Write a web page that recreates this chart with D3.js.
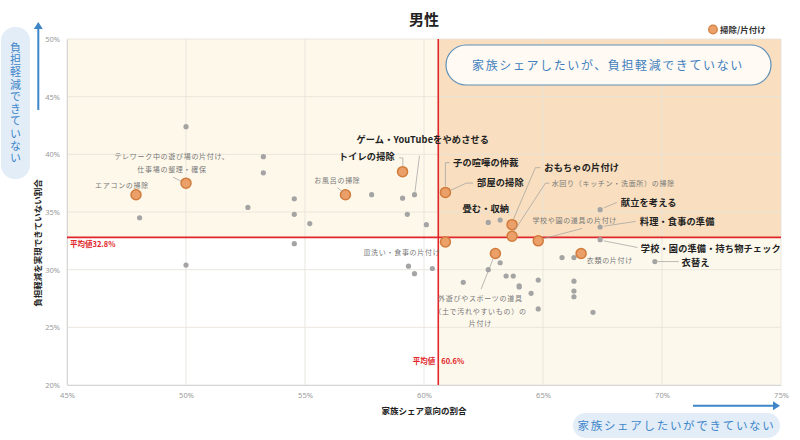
<!DOCTYPE html>
<html>
<head>
<meta charset="utf-8">
<script src="https://cdn.jsdelivr.net/npm/d3@7"></script>
<style>
  body { margin: 0; background: #fff; }
  svg text { font-family: "Noto Sans CJK JP", "Noto Sans", sans-serif; }
</style>
</head>
<body>
<svg id="chart" width="800" height="440"></svg>
<script>
// 掃除/片付け (orange)
var cleanTasks = ["エアコンの掃除", "テレワーク中の遊び場の片付け、仕事場の整理・確保", "お風呂の掃除", "トイレの掃除",
  "部屋の掃除", "おもちゃの片付け", "水回り（キッチン・洗面所）の掃除", "学校や園の道具の片付け",
  "皿洗い・食事の片付け", "外遊びやスポーツの道具（土で汚れやすいもの）の片付け", "衣類の片付け"];
var cleanShare  = [47.9, 50.0, 56.7, 59.1, 60.9, 63.7, 63.7, 64.8, 60.9, 63.0, 66.6];
var cleanBurden = [36.5, 37.5, 36.5, 38.5, 36.7, 33.9, 32.9, 32.5, 32.4, 31.4, 31.4];

// other tasks (gray), "" = no label
var otherTasks = ["ゲーム・YouTubeをやめさせる", "子の喧嘩の仲裁", "畳む・収納", "献立を考える", "料理・食事の準備",
  "学校・園の準備・持ち物チェック", "衣替え",
  "", "", "", "", "", "", "", "", "", "", "", "", "", "", "", "", "", "", "", "", "", "", "", "", "", "", "", "", "", "", "", "", "", ""];
var otherShare  = [59.6, 60.9, 62.7, 67.4, 67.4, 67.4, 69.7,
  50.0, 53.25, 53.25, 54.55, 52.6, 57.8, 59.1, 59.3, 48.05, 54.55, 55.2, 54.55, 50.0, 60.1, 63.2,
  65.8, 66.3, 64.8, 66.3, 64.5, 66.3, 66.3, 64.8, 67.1, 59.35, 59.6, 60.35, 61.65, 62.7, 63.2, 63.45, 63.75, 64.0, 64.0];
var otherBurden = [36.5, 36.7, 34.1, 35.2, 33.7, 32.6, 30.7,
  42.4, 39.8, 38.4, 36.15, 35.4, 36.5, 36.2, 34.8, 34.5, 34.8, 34.0, 32.25, 30.4, 33.9, 34.3,
  31.05, 31.05, 29.1, 29.0, 27.95, 28.15, 27.65, 26.6, 26.3, 30.3, 29.65, 30.1, 28.9, 30.0, 30.6, 29.45, 29.45, 28.6, 28.5];

var meanShare = 60.6;
var meanBurden = 32.8;
var xTicks = [45, 50, 55, 60, 65, 70, 75];
var yTicks = [20, 25, 30, 35, 40, 45, 50];

// label layout: offsets from the point in px, leader points relative to the point
var labelLayout = {
  "エアコンの掃除": {lines: ["エアコンの掃除"], ox: -14, oy: -7, anchor: "middle"},
  "テレワーク中の遊び場の片付け、仕事場の整理・確保": {lines: ["テレワーク中の遊び場の片付け、", "仕事場の整理・確保"], ox: -14, oy: -24, anchor: "middle", leader: [[-13, -6], [-5, -2]]},
  "お風呂の掃除": {lines: ["お風呂の掃除"], ox: -8, oy: -12, anchor: "middle", leader: [[-8, -7], [-3, -3]]},
  "皿洗い・食事の片付け": {lines: ["皿洗い・食事の片付け"], ox: -5, oy: 13.5, anchor: "end"},
  "水回り（キッチン・洗面所）の掃除": {lines: ["水回り（キッチン・洗面所）の掃除"], ox: 39.6, oy: -49.8, anchor: "start", leader: [[2, -5], [33.3, -53], [37.3, -53]]},
  "学校や園の道具の片付け": {lines: ["学校や園の道具の片付け"], ox: 36.5, oy: -18, anchor: "middle", leader: [[6, -2.4], [44, -12.4]]},
  "衣類の片付け": {lines: ["衣類の片付け"], ox: 5.7, oy: 9.5, anchor: "start"},
  "外遊びやスポーツの道具（土で汚れやすいもの）の片付け": {lines: ["外遊びやスポーツの道具", "（土で汚れやすいもの）の", "片付け"], ox: -15, oy: 47.8, anchor: "middle", leader: [[-14.3, 35.6], [-2.3, 5.3]]},
  "トイレの掃除": {lines: ["トイレの掃除"], ox: -7.7, oy: -11.2, anchor: "end", bold: true, leader: [[-3.3, -13.7], [0.3, -13.7], [0.3, -5.3]]},
  "部屋の掃除": {lines: ["部屋の掃除"], ox: 31.7, oy: -6.5, anchor: "start", bold: true, leader: [[27.7, -9.3], [21, -9.3], [5, -2]]},
  "おもちゃの片付け": {lines: ["おもちゃの片付け"], ox: 32.3, oy: -53.5, anchor: "start", bold: true, leader: [[28.3, -57], [23.3, -57], [1.3, -5.3]]},
  "ゲーム・YouTubeをやめさせる": {lines: ["ゲーム・YouTubeをやめさせる"], ox: 8.3, oy: -52.2, anchor: "middle", bold: true, leader: [[0.5, -3], [5, -39]]},
  "子の喧嘩の仲裁": {lines: ["子の喧嘩の仲裁"], ox: 7.7, oy: -26.2, anchor: "start", bold: true, leader: [[4.3, -29.7], [0, -29.7], [0, -6]]},
  "畳む・収納": {lines: ["畳む・収納"], ox: -2.4, oy: -9.9, anchor: "middle", bold: true},
  "献立を考える": {lines: ["献立を考える"], ox: 20.7, oy: -4.1, anchor: "start", bold: true, leader: [[3.7, -1.8], [16.7, -7.3]]},
  "料理・食事の準備": {lines: ["料理・食事の準備"], ox: 39.7, oy: -2.1, anchor: "start", bold: true, leader: [[3.7, -0.8], [35.7, -5.6]]},
  "学校・園の準備・持ち物チェック": {lines: ["学校・園の準備・持ち物チェック"], ox: 40.7, oy: 12.3, anchor: "start", bold: true, leader: [[3.7, 1.2], [37.4, 7.8]]},
  "衣替え": {lines: ["衣替え"], ox: 26.7, oy: 4, anchor: "start", bold: true, leader: [[3, 0], [24, 0]]}
};

var svg = d3.select("#chart");
var x = d3.scaleLinear().domain([45, 75]).range([67, 781]);
var y = d3.scaleLinear().domain([20, 50]).range([385, 39]);
var x0 = x(45), x1 = x(75), y0 = y(50), y1 = y(20);
var mx = x(meanShare), my = y(meanBurden);

// quadrant backgrounds
svg.append("rect").attr("x", x0).attr("y", y0).attr("width", mx - x0).attr("height", my - y0).attr("fill", "#fdf8ea");
svg.append("rect").attr("x", mx).attr("y", y0).attr("width", x1 - mx).attr("height", my - y0).attr("fill", "#f9dfbf");
svg.append("rect").attr("x", mx).attr("y", my).attr("width", x1 - mx).attr("height", y1 - my).attr("fill", "#fdf8ec");

// grid
var grid = svg.append("g").attr("stroke", "#e4e1da").attr("stroke-width", 0.8);
grid.selectAll(".gx").data(xTicks).join("line")
  .attr("x1", d => x(d)).attr("x2", d => x(d)).attr("y1", y0).attr("y2", y1);
grid.selectAll(".gy").data(yTicks).join("line")
  .attr("x1", x0).attr("x2", x1).attr("y1", d => y(d)).attr("y2", d => y(d));

// axes
var xAxis = svg.append("g").attr("transform", "translate(0," + y1 + ")")
  .call(d3.axisBottom(x).tickValues(xTicks).tickFormat(d => d + "%").tickSize(0).tickPadding(8));
var yAxis = svg.append("g").attr("transform", "translate(" + x0 + ",0)")
  .call(d3.axisLeft(y).tickValues(yTicks).tickFormat(d => d + "%").tickSize(0).tickPadding(7));
[xAxis, yAxis].forEach(function(g) {
  g.select(".domain").attr("stroke", "#d6d6d6").attr("stroke-width", 1);
  g.selectAll("text").attr("fill", "#9a9a9a").attr("font-size", 7.5)
    .style("font-family", "'Noto Sans', sans-serif");
});

// mean lines
svg.append("line").attr("x1", x0).attr("x2", x1).attr("y1", my).attr("y2", my)
  .attr("stroke", "#e0262a").attr("stroke-width", 1.6);
svg.append("line").attr("x1", mx).attr("x2", mx).attr("y1", y0).attr("y2", y1)
  .attr("stroke", "#e0262a").attr("stroke-width", 1.6);
svg.append("text").attr("x", x0 + 3).attr("y", my + 10).text("平均値" + meanBurden + "%")
  .attr("fill", "#e0262a").attr("font-size", 7.5).attr("font-weight", "bold");
svg.append("text").attr("x", mx - 3).attr("y", 364).attr("text-anchor", "end").text("平均値")
  .attr("fill", "#e0262a").attr("font-size", 7.5).attr("font-weight", "bold");
svg.append("text").attr("x", mx + 3).attr("y", 364).text(meanShare + "%")
  .attr("fill", "#e0262a").attr("font-size", 7.5).attr("font-weight", "bold");

// points
var others = otherTasks.map((n, i) => ({name: n, sx: otherShare[i], by: otherBurden[i]}));
var cleans = cleanTasks.map((n, i) => ({name: n, sx: cleanShare[i], by: cleanBurden[i]}));

svg.append("g").selectAll("circle").data(others).join("circle")
  .attr("cx", d => x(d.sx)).attr("cy", d => y(d.by)).attr("r", 2.6).attr("fill", "#a4a4a4");
svg.append("g").selectAll("circle").data(cleans).join("circle")
  .attr("cx", d => x(d.sx)).attr("cy", d => y(d.by)).attr("r", 5)
  .attr("fill", "#eba06a").attr("stroke", "#d27b3b").attr("stroke-width", 1.5);

// labels + leaders
var labelled = cleans.concat(others).filter(d => labelLayout[d.name]);
labelled.forEach(function(d) {
  var L = labelLayout[d.name], px = x(d.sx), py = y(d.by);
  if (L.leader) {
    svg.append("path")
      .attr("d", d3.line()(L.leader.map(p => [px + p[0], py + p[1]])))
      .attr("fill", "none").attr("stroke", "#9d9d9d").attr("stroke-width", 0.7);
  }
  var step = L.bold ? 13 : 12.5;
  L.lines.forEach(function(t, i) {
    svg.append("text").attr("x", px + L.ox).attr("y", py + L.oy + i * step)
      .attr("text-anchor", L.anchor).text(t)
      .attr("font-size", L.bold ? 9.2 : 7)
      .attr("font-weight", L.bold ? "bold" : "normal")
      .attr("letter-spacing", L.bold ? 0.15 : 0.7)
      .attr("fill", L.bold ? "#222" : "#777");
  });
});

// title, legend
svg.append("text").attr("x", 424).attr("y", 25).attr("text-anchor", "middle").text("男性")
  .attr("font-size", 15).attr("font-weight", "bold").attr("fill", "#222");
svg.append("circle").attr("cx", 713).attr("cy", 29.5).attr("r", 4.3)
  .attr("fill", "#eba06a").attr("stroke", "#d27b3b").attr("stroke-width", 1.2);
svg.append("text").attr("x", 720).attr("y", 32.5).text("掃除/片付け")
  .attr("font-size", 8.5).attr("font-weight", "bold").attr("fill", "#333");

// axis titles
svg.append("text").attr("x", 424).attr("y", 414).attr("text-anchor", "middle").text("家族シェア意向の割合")
  .attr("font-size", 8.5).attr("font-weight", "bold").attr("fill", "#222");
svg.append("text").attr("transform", "translate(41,243) rotate(-90)").attr("text-anchor", "middle")
  .text("負担軽減を実現できていない割合")
  .attr("font-size", 8.5).attr("font-weight", "bold").attr("fill", "#222");

// callout in the upper-right quadrant
svg.append("rect").attr("x", 446).attr("y", 45).attr("width", 325).attr("height", 40).attr("rx", 20)
  .attr("fill", "#fffaf4").attr("stroke", "#5f8fb8").attr("stroke-width", 1.2);
svg.append("text").attr("x", 608).attr("y", 70).attr("text-anchor", "middle")
  .text("家族シェアしたいが、負担軽減できていない")
  .attr("font-size", 12).attr("letter-spacing", 1.6).attr("fill", "#3f7fbd");

// left direction badge (vertical text)
var blue = "#3f86c8";
svg.append("rect").attr("x", 1).attr("y", 27).attr("width", 29).attr("height", 152).attr("rx", 14)
  .attr("fill", "#e2edf8");
svg.append("text").attr("x", 15.5).attr("y", 42)
  .style("writing-mode", "vertical-rl").style("text-orientation", "upright")
  .attr("letter-spacing", 1.3).text("負担軽減できていない")
  .attr("font-size", 11).attr("fill", blue);
svg.append("line").attr("x1", 38.3).attr("x2", 38.3).attr("y1", 110).attr("y2", 27)
  .attr("stroke", blue).attr("stroke-width", 2);
svg.append("path").attr("d", "M33.8,29 L38.3,22 L42.8,29 Z").attr("fill", blue);

// bottom direction badge
svg.append("rect").attr("x", 573).attr("y", 413).attr("width", 207).attr("height", 25).attr("rx", 12.5)
  .attr("fill", "#e2edf8");
svg.append("text").attr("x", 676.5).attr("y", 430).attr("text-anchor", "middle")
  .text("家族シェアしたいができていない")
  .attr("font-size", 11.5).attr("letter-spacing", 1.7).attr("fill", blue);
svg.append("line").attr("x1", 693).attr("x2", 775).attr("y1", 405.7).attr("y2", 405.7)
  .attr("stroke", blue).attr("stroke-width", 2);
svg.append("path").attr("d", "M773,401.2 L780,405.7 L773,410.2 Z").attr("fill", blue);
</script>
</body>
</html>
